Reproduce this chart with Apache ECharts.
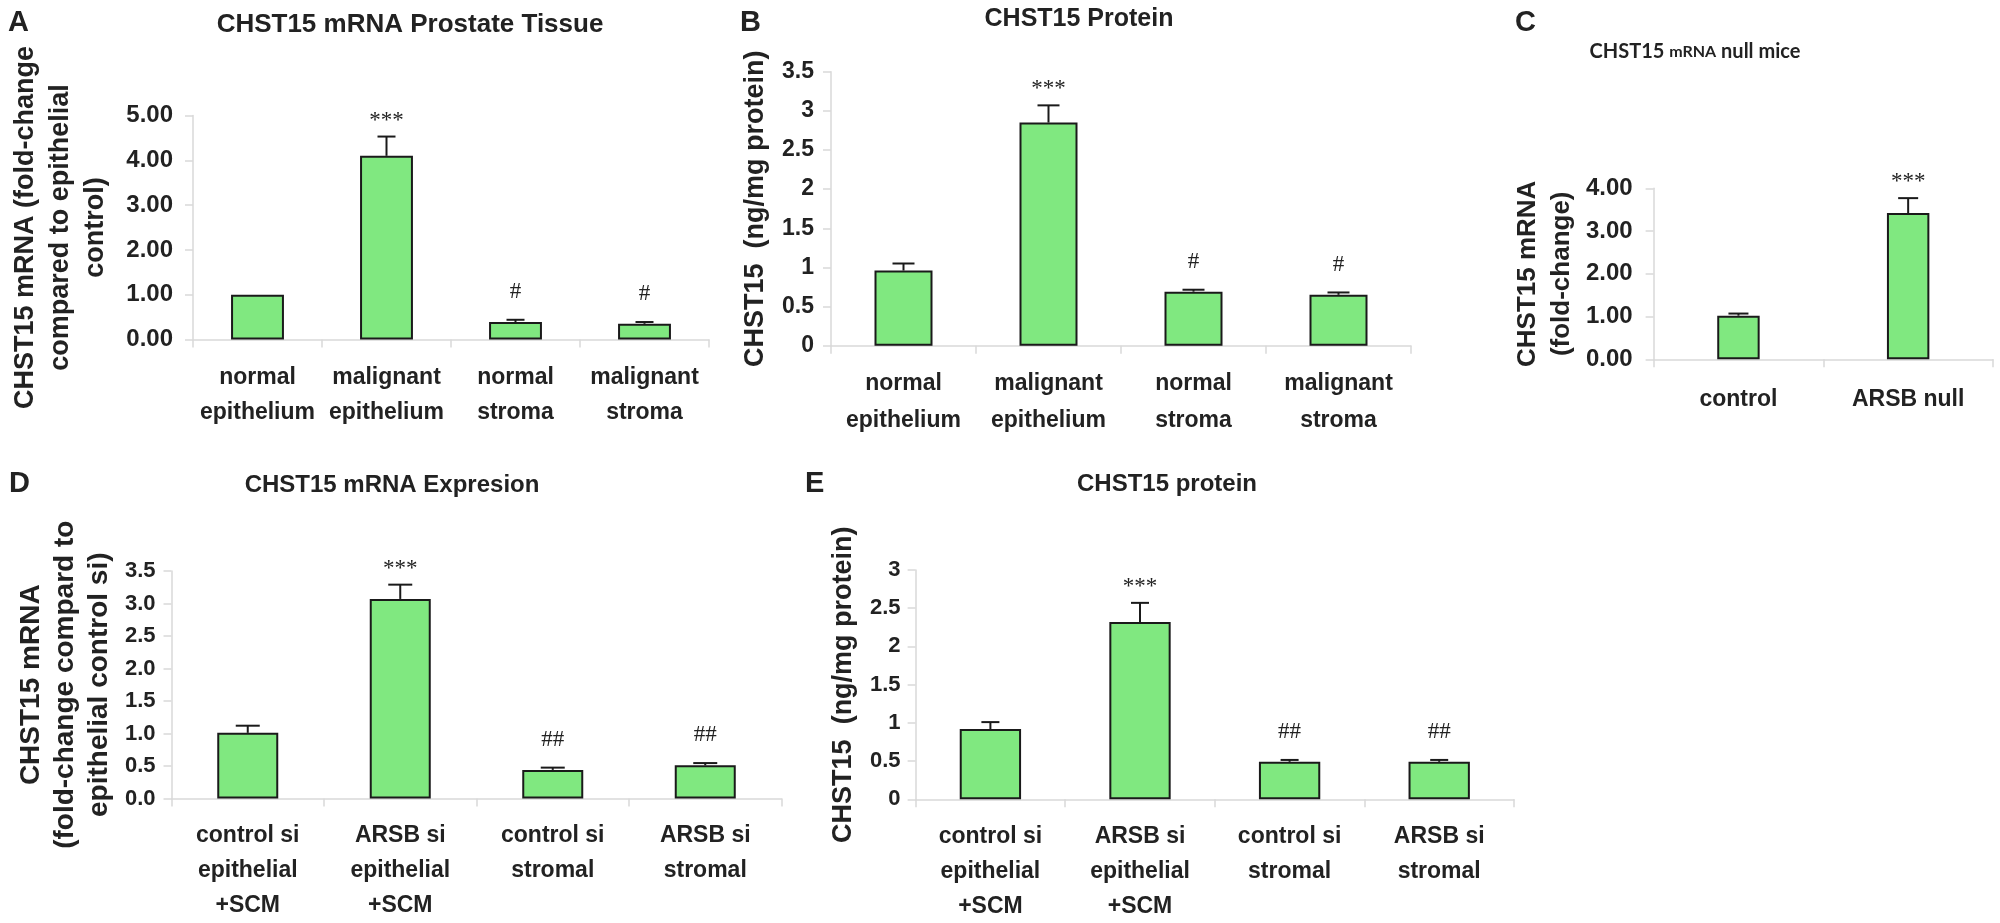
<!DOCTYPE html>
<html><head><meta charset="utf-8">
<script src="https://cdn.jsdelivr.net/npm/echarts@6/dist/echarts.min.js"></script>
<style>html,body{margin:0;padding:0;background:#fff}#c{width:2000px;height:923px}</style>
</head><body><div id="c"></div>
<script>
// ---------- Panel A: CHST15 mRNA Prostate Tissue ----------
const catsA = ['normal\nepithelium', 'malignant\nepithelium', 'normal\nstroma', 'malignant\nstroma'];
const valsA = [1.00, 4.10, 0.39, 0.35];
const semA  = [0.00, 0.43, 0.05, 0.04];
const sigA  = ['', '***', '#', '#'];
const ticksA = [0, 1, 2, 3, 4, 5];

// ---------- Panel B: CHST15 Protein ----------
const catsB = ['normal\nepithelium', 'malignant\nepithelium', 'normal\nstroma', 'malignant\nstroma'];
const valsB = [0.96, 2.85, 0.69, 0.65];
const semB  = [0.09, 0.22, 0.025, 0.03];
const sigB  = ['', '***', '#', '#'];
const ticksB = [0, 0.5, 1, 1.5, 2, 2.5, 3, 3.5];

// ---------- Panel C: CHST15 mRNA null mice ----------
const catsC = ['control', 'ARSB null'];
const valsC = [1.02, 3.42];
const semC  = [0.05, 0.35];
const sigC  = ['', '***'];
const ticksC = [0, 1, 2, 3, 4];

// ---------- Panel D: CHST15 mRNA Expresion ----------
const catsD = ['control si\nepithelial\n+SCM', 'ARSB si\nepithelial\n+SCM', 'control si\nstromal', 'ARSB si\nstromal'];
const valsD = [1.01, 3.07, 0.44, 0.51];
const semD  = [0.11, 0.22, 0.035, 0.035];
const sigD  = ['', '***', '##', '##'];
const ticksD = [0, 0.5, 1, 1.5, 2, 2.5, 3, 3.5];

// ---------- Panel E: CHST15 protein ----------
const catsE = ['control si\nepithelial\n+SCM', 'ARSB si\nepithelial\n+SCM', 'control si\nstromal', 'ARSB si\nstromal'];
const valsE = [0.92, 2.32, 0.49, 0.49];
const semE  = [0.09, 0.25, 0.025, 0.025];
const sigE  = ['', '***', '##', '##'];
const ticksE = [0, 0.5, 1, 1.5, 2, 2.5, 3];

// ---------- styling / layout ----------
const FONT = '"Liberation Sans", Arial, Helvetica, sans-serif';
const SERIF = '"Liberation Serif", "Times New Roman", serif';
const TXT = '#222222';
const AXC = '#d9d9d9';
const BAR = '#80e880';
const EDGE = '#1a1a1a';

const panels = [
  {cats: catsA, vals: valsA, sem: semA, sig: sigA, ticks: ticksA, digits: 2,
   grid: {left: 193, top: 115.5, width: 516, height: 224},
   barWidth: '41%', cap: 18, tickFont: 24, tickMargin: 20,
   xFont: 23, xLH: 35, xMargin: 21,
   name: 'CHST15 mRNA (fold-change\ncompared to epithelial\ncontrol)', nameFont: 27, nameLH: 35, nameGap: 80},
  {cats: catsB, vals: valsB, sem: semB, sig: sigB, ticks: ticksB, digits: -1,
   grid: {left: 831, top: 71.7, width: 580, height: 274},
   barWidth: '40%', cap: 22, tickFont: 23, tickMargin: 17,
   xFont: 23, xLH: 37, xMargin: 19,
   name: 'CHST15  (ng/mg protein)', nameFont: 27, nameLH: 32, nameGap: 59},
  {cats: catsC, vals: valsC, sem: semC, sig: sigC, ticks: ticksC, digits: 2,
   grid: {left: 1653.6, top: 188.3, width: 339.4, height: 171},
   barWidth: '25%', cap: 20, tickFont: 24, tickMargin: 21,
   xFont: 23, xLH: 34, xMargin: 23,
   name: 'CHST15 mRNA\n(fold-change)', nameFont: 26, nameLH: 34, nameGap: 75},
  {cats: catsD, vals: valsD, sem: semD, sig: sigD, ticks: ticksD, digits: 1,
   grid: {left: 171.5, top: 571, width: 610, height: 227.5},
   barWidth: '40%', cap: 24, tickFont: 22, tickMargin: 16,
   xFont: 23, xLH: 35, xMargin: 20,
   name: 'CHST15 mRNA\n(fold-change compard to\nepithelial control si)', nameFont: 28, nameLH: 34, nameGap: 55},
  {cats: catsE, vals: valsE, sem: semE, sig: sigE, ticks: ticksE, digits: -1,
   grid: {left: 915.6, top: 570, width: 598.4, height: 229.3},
   barWidth: '41%', cap: 18, tickFont: 22, tickMargin: 15,
   xFont: 23, xLH: 35, xMargin: 20,
   name: 'CHST15  (ng/mg protein)', nameFont: 27, nameLH: 32, nameGap: 56}
];

const titles = [
  {text: 'CHST15 mRNA Prostate Tissue', x: 410, y: 25, size: 26},
  {text: 'CHST15 Protein', x: 1079, y: 19, size: 25},
  {text: 'CHST15 mRNA Expresion', x: 392, y: 485, size: 24},
  {text: 'CHST15 protein', x: 1167, y: 484, size: 24}
];
const letters = [
  {text: 'A', x: 8, y: 22.5}, {text: 'B', x: 740, y: 23}, {text: 'C', x: 1515, y: 22.5},
  {text: 'D', x: 9, y: 484}, {text: 'E', x: 805, y: 484}
];

const grids = [], xAxes = [], yAxes = [], series = [];
panels.forEach((p, gi) => {
  const n = p.ticks.length;
  grids.push(Object.assign({outerBoundsMode: 'none', containLabel: false}, p.grid));
  xAxes.push({
    type: 'category', gridIndex: gi, data: p.cats, boundaryGap: true,
    axisLine: {show: true, lineStyle: {color: AXC, width: 1.5}},
    axisTick: {show: true, length: 8, lineStyle: {color: AXC, width: 1.5}},
    axisLabel: {interval: 0, margin: p.xMargin, color: TXT, fontFamily: FONT, fontWeight: 'bold',
                fontSize: p.xFont, lineHeight: p.xLH},
    splitLine: {show: false}
  });
  yAxes.push({
    type: 'value', gridIndex: gi, min: p.ticks[0], max: p.ticks[n - 1],
    interval: p.ticks[1] - p.ticks[0],
    axisLine: {show: true, lineStyle: {color: AXC, width: 1.5}},
    axisTick: {show: true, length: 8, lineStyle: {color: AXC, width: 1.5}},
    splitLine: {show: false},
    axisLabel: {margin: p.tickMargin, color: TXT, fontFamily: FONT, fontWeight: 'bold', fontSize: p.tickFont,
                formatter: v => p.digits >= 0 ? v.toFixed(p.digits) : String(v)},
    name: p.name, nameLocation: 'middle', nameRotate: 90, nameGap: p.nameGap, nameMoveOverlap: false,
    nameTextStyle: {color: TXT, fontFamily: FONT, fontWeight: 'bold', fontSize: p.nameFont,
                    lineHeight: p.nameLH, align: 'center'}
  });
  series.push({
    type: 'bar', xAxisIndex: gi, yAxisIndex: gi, data: p.vals, barWidth: p.barWidth,
    itemStyle: {color: BAR, borderColor: EDGE, borderWidth: 2},
    emphasis: {disabled: true}, silent: true, z: 2
  });
  const sig = p.sig, cap = p.cap;
  series.push({
    type: 'custom', xAxisIndex: gi, yAxisIndex: gi, z: 5, silent: true,
    data: p.vals.map((v, i) => [i, v, v + p.sem[i]]),
    renderItem: function (params, api) {
      const i = params.dataIndex;
      const b = api.coord([api.value(0), api.value(1)]);
      const t = api.coord([api.value(0), api.value(2)]);
      const ch = [];
      if (t[1] < b[1] - 0.5) {
        ch.push({type: 'line', shape: {x1: b[0], y1: b[1], x2: t[0], y2: t[1]},
                 style: {stroke: EDGE, lineWidth: 2}});
        ch.push({type: 'line', shape: {x1: t[0] - cap / 2, y1: t[1], x2: t[0] + cap / 2, y2: t[1]},
                 style: {stroke: EDGE, lineWidth: 2}});
      }
      const s = sig[i];
      if (s) {
        const gap = s.indexOf('*') >= 0 ? 16 : 28;
        ch.push({type: 'text', x: t[0], y: t[1] - gap,
                 style: {text: s, fill: TXT, fontFamily: SERIF, fontSize: 23,
                         align: 'center', verticalAlign: 'middle'}});
      }
      return {type: 'group', children: ch};
    }
  });
});

const graphics = [];
titles.forEach(t => graphics.push({type: 'text', x: t.x, y: t.y, silent: true,
  style: {text: t.text, fill: TXT, fontFamily: FONT, fontWeight: 'bold', fontSize: t.size,
          align: 'center', verticalAlign: 'middle'}}));
letters.forEach(l => graphics.push({type: 'text', x: l.x, y: l.y, silent: true,
  style: {text: l.text, fill: TXT, fontFamily: FONT, fontWeight: 'bold', fontSize: 29,
          align: 'left', verticalAlign: 'middle'}}));
// panel C title (mixed sizes)
graphics.push({type: 'text', x: 1695, y: 52, silent: true,
  style: {text: '{a|CHST15 }{b|mRNA}{a| null mice}', align: 'center', verticalAlign: 'middle',
          rich: {a: {fontFamily: 'Lato, "Open Sans", sans-serif', fontWeight: 'bold', fontSize: 20, fill: TXT},
                 b: {fontFamily: 'Lato, "Open Sans", sans-serif', fontWeight: 'bold', fontSize: 16, fill: TXT}}}});

const chart = echarts.init(document.getElementById('c'), null, {renderer: 'canvas'});
chart.setOption({
  animation: false,
  backgroundColor: '#ffffff',
  grid: grids, xAxis: xAxes, yAxis: yAxes, series: series,
  graphic: graphics
});
</script></body></html>
